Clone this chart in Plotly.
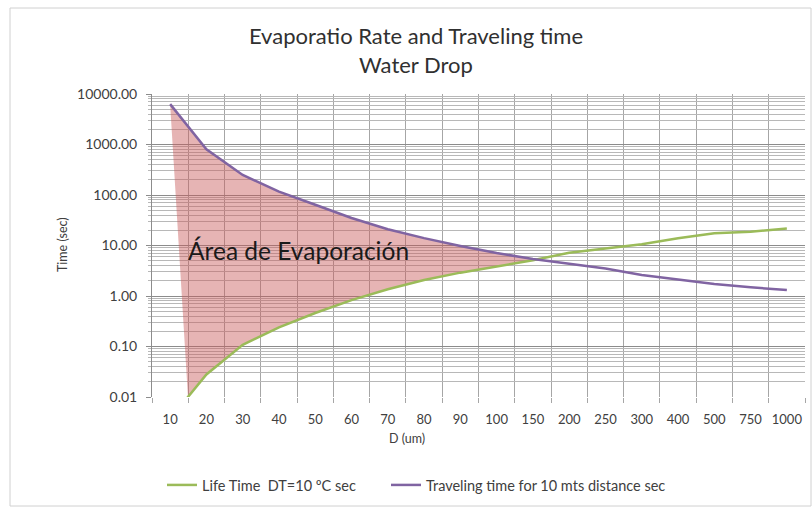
import math
import plotly.graph_objects as go

# ---------------- data ----------------
diameters = ["10", "20", "30", "40", "50", "60", "70", "80", "90", "100",
             "150", "200", "250", "300", "400", "500", "750", "1000"]
life_time = [0.0037, 0.028, 0.108, 0.24, 0.46, 0.83, 1.36, 2.07, 2.9, 3.9,
             5.1, 7.2, 8.8, 10.6, 13.9, 17.4, 18.7, 21.8]
travel_time = [6300, 805, 250, 117, 64, 35, 21, 14, 9.8, 7.1,
               5.4, 4.3, 3.5, 2.6, 2.14, 1.73, 1.49, 1.31]
y_tick_vals = [0.01, 0.1, 1, 10, 100, 1000, 10000]
y_tick_text = ["0.01", "0.10", "1.00", "10.00", "100.00", "1000.00", "10000.00"]
y_floor = 0.01

GREEN = "#9BBB59"
PURPLE = "#8064A2"
FONT = "Lato"
TXT = "#404040"

idx = list(range(len(diameters)))

# ---------------- evaporation area (between the two curves) ----------------
lg = [math.log10(v) for v in life_time]
lt = [math.log10(v) for v in travel_time]
f = math.log10(y_floor)
t0 = (f - lg[0]) / (lg[1] - lg[0])
start_x = idx[0] + t0
k = len(idx) - 2
cx, cy = idx[-1], travel_time[-1]
for i in range(len(idx) - 1):
    if lg[i + 1] >= lt[i + 1]:
        d0 = lt[i] - lg[i]
        d1 = lt[i + 1] - lg[i + 1]
        t = d0 / (d0 - d1)
        cx = idx[i] + t
        cy = 10 ** (lt[i] + t * (lt[i + 1] - lt[i]))
        k = i
        break
poly_x = idx[:k + 1] + [cx] + idx[k:0:-1] + [start_x]
poly_y = travel_time[:k + 1] + [cy] + life_time[k:0:-1] + [y_floor]

fig = go.Figure()
fig.add_trace(go.Scatter(x=poly_x, y=poly_y, fill="toself", mode="lines",
                         line=dict(width=0), fillcolor="rgba(200,88,88,0.45)",
                         hoverinfo="skip", showlegend=False))
fig.add_trace(go.Scatter(x=idx, y=life_time, mode="lines",
                         name="Life Time  DT=10 ºC sec", legend="legend",
                         line=dict(color=GREEN, width=2.5)))
fig.add_trace(go.Scatter(x=idx, y=travel_time, mode="lines",
                         name="Traveling time for 10 mts distance sec",
                         legend="legend2",
                         line=dict(color=PURPLE, width=2.5)))

L, R, T, B = 152, 7, 94, 111
W, H = 812, 508
pw, ph = W - L - R, H - T - B


def px_x(p):
    return (p - L) / pw


def px_y(p):
    return (H - B - p) / ph


minor_y = [m * 10 ** e for e in range(-2, 4) for m in range(2, 10)]

leg_common = dict(orientation="h", xanchor="left", y=px_y(485), yanchor="middle",
                  font=dict(family=FONT, size=14.5, color=TXT),
                  bgcolor="rgba(0,0,0,0)", itemwidth=30)

fig.update_layout(
    width=W, height=H,
    margin=dict(l=L, r=R, t=T, b=B),
    paper_bgcolor="white", plot_bgcolor="white",
    font=dict(family=FONT, color=TXT, size=13),
    title=dict(text="Evaporatio Rate and Traveling time<br>Water Drop",
               x=416 / W, xref="container", xanchor="center",
               y=1 - 44 / H, yref="container", yanchor="top",
               font=dict(family=FONT, size=22, color="#303030")),
    showlegend=True,
    legend=dict(x=px_x(162), **leg_common),
    legend2=dict(x=px_x(386), **leg_common),
    xaxis=dict(range=[-0.5, len(idx) - 0.5], tickmode="array",
               tickvals=idx, ticktext=diameters, ticks="", showgrid=False,
               zeroline=False, showline=False,
               tickfont=dict(family=FONT, size=13, color=TXT),
               ticklabelstandoff=13,
               minor=dict(tickmode="array",
                          tickvals=[i - 0.5 for i in range(len(idx) + 1)],
                          showgrid=True, gridcolor="#a6a6a6", gridwidth=1,
                          ticks="outside", ticklen=5, tickcolor="#a6a6a6")),
    yaxis=dict(type="log", range=[-2, 4], tickmode="array",
               tickvals=y_tick_vals, ticktext=y_tick_text,
               showgrid=True, gridcolor="#8c8c8c", gridwidth=1.2,
               ticks="outside", ticklen=5, tickcolor="#8c8c8c",
               showline=True, linecolor="#8c8c8c", linewidth=1,
               zeroline=False, ticklabelstandoff=6,
               tickfont=dict(family=FONT, size=14, color=TXT),
               minor=dict(tickmode="array", tickvals=minor_y,
                          showgrid=True, gridcolor="#b8b8b8", gridwidth=1,
                          ticks="outside", ticklen=3, tickcolor="#b8b8b8")),
    annotations=[
        dict(text="Área de Evaporación", x=px_x(186), y=px_y(250),
             xref="paper", yref="paper", xanchor="left", yanchor="middle",
             showarrow=False, font=dict(family=FONT, size=24.5, color="#1a1a1a")),
        dict(text="D (um)", x=px_x(407), y=px_y(438), xref="paper", yref="paper",
             xanchor="center", yanchor="middle", showarrow=False,
             font=dict(family=FONT, size=12.5, color=TXT)),
        dict(text="Time (sec)", x=px_x(62), y=px_y(245), xref="paper", yref="paper",
             xanchor="center", yanchor="middle", textangle=-90, showarrow=False,
             font=dict(family=FONT, size=12.5, color=TXT)),
    ],
    shapes=[dict(type="rect", xref="paper", yref="paper",
                 x0=px_x(10), x1=px_x(811), y0=px_y(506), y1=px_y(8),
                 line=dict(color="#d0d0d0", width=1), fillcolor="rgba(0,0,0,0)",
                 layer="below")],
)

fig.write_html("out.html",
               config={"displayModeBar": False},
               post_script="document.body.style.margin='0';"
                           "document.body.style.overflow='hidden';")
